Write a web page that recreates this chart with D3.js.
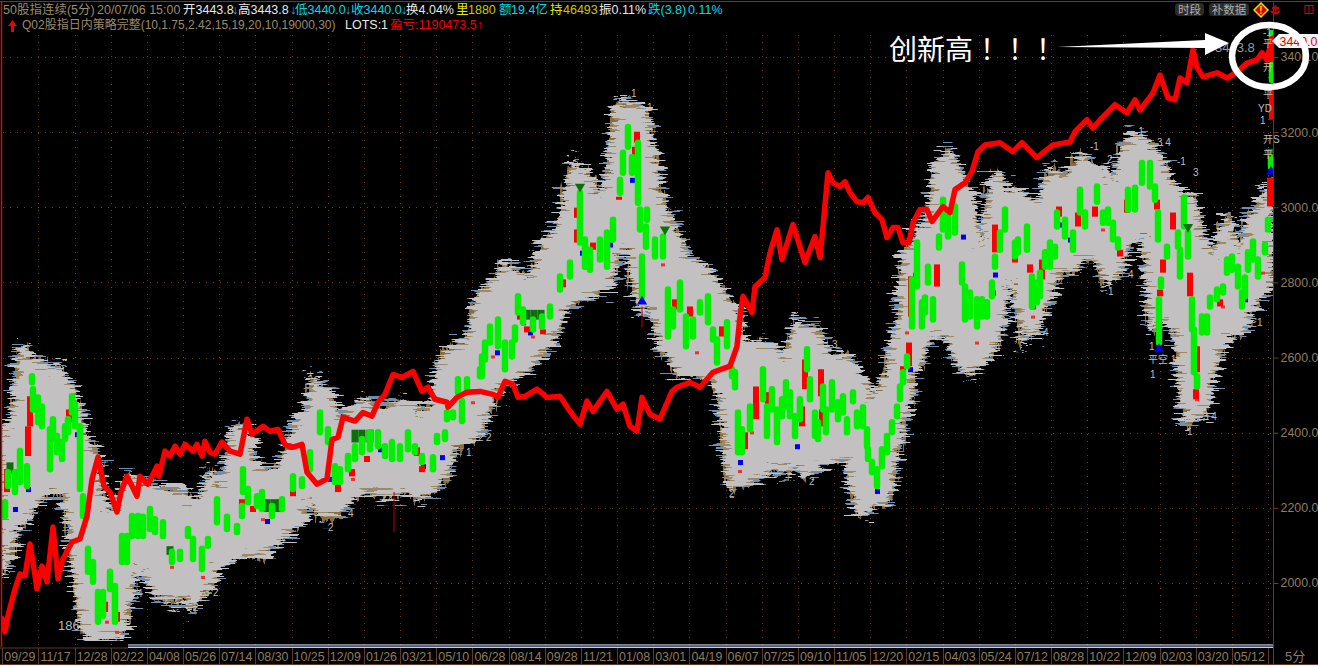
<!DOCTYPE html>
<html><head><meta charset="utf-8">
<style>
html,body{margin:0;padding:0;background:#fff;overflow:hidden}
svg{display:block;font-family:"Liberation Sans","Noto Sans CJK SC",sans-serif}
</style>
<script src="https://cdn.jsdelivr.net/npm/d3@7"></script>
</head><body><svg id="c" width="1318" height="667"></svg>
<script>
const xLabels=["09/29","11/17","12/28","02/22","04/08","05/26","07/14","08/30","10/25","12/09","01/26","03/21","05/10","06/28","08/14","09/28","11/21","01/08","03/01","04/19","06/07","07/25","09/10","11/05","12/20","02/15","04/03","05/24","07/12","08/28","10/22","12/09","02/03","03/20","05/12"];
const yTicks=[3400,3200,3000,2800,2600,2400,2200,2000];

// strategy equity curve, plotted against the price axis: [bar, level]
const equity=[[2,1905],[5,1870],[8,1913],[15,1984],[20,2024],[25,2019],[30,2104],[33,2056],[37,1984],[42,2045],[47,2003],[53,2149],[58,2011],[63,2064],[72,2109],[80,2117],[87,2178],[92,2276],[98,2335],[104,2258],[110,2242],[117,2189],[121,2242],[127,2284],[132,2258],[137,2231],[140,2284],[148,2263],[157,2311],[159,2284],[165,2351],[170,2338],[175,2364],[180,2343],[185,2369],[193,2351],[197,2369],[202,2338],[205,2377],[210,2348],[215,2343],[222,2375],[230,2351],[240,2343],[247,2436],[252,2396],[263,2417],[270,2404],[278,2409],[285,2369],[292,2361],[302,2369],[307,2295],[317,2263],[327,2277],[332,2382],[338,2388],[343,2441],[355,2431],[363,2454],[372,2444],[378,2481],[385,2502],[393,2555],[402,2547],[413,2563],[422,2510],[428,2521],[435,2489],[447,2481],[448,2468],[457,2494],[467,2508],[480,2510],[493,2502],[498,2494],[505,2537],[513,2529],[518,2494],[525,2497],[537,2516],[547,2494],[560,2497],[570,2457],[580,2423],[587,2484],[593,2457],[607,2510],[617,2462],[623,2476],[630,2417],[637,2404],[642,2494],[650,2449],[660,2436],[672,2510],[677,2521],[690,2534],[700,2521],[713,2561],[730,2577],[737,2630],[740,2709],[743,2763],[752,2720],[755,2789],[765,2813],[770,2879],[777,2940],[782,2861],[793,2954],[805,2853],[815,2922],[820,2866],[823,2948],[828,3092],[833,3065],[840,3055],[845,3068],[850,3039],[857,3015],[863,3012],[868,3026],[875,2986],[882,2967],[887,2919],[893,2946],[898,2946],[903,2906],[909,2906],[913,2959],[920,2994],[927,2994],[932,2962],[943,3002],[950,2986],[955,3047],[965,3065],[972,3095],[978,3148],[985,3166],[1000,3172],[1013,3148],[1022,3172],[1037,3132],[1053,3166],[1070,3174],[1075,3201],[1087,3233],[1093,3211],[1102,3238],[1115,3273],[1127,3251],[1135,3286],[1140,3259],[1153,3304],[1160,3352],[1168,3291],[1175,3286],[1180,3344],[1187,3331],[1193,3419],[1197,3373],[1203,3347],[1217,3358],[1227,3344],[1237,3360],[1247,3384],[1257,3392],[1262,3411],[1267,3392],[1272,3450]];

// envelope of the dense signal labels: [bar, top, bottom]
const band=[[0,2409,2016],[5,2404,2024],[12,2441,2077],[18,2643,2157],[25,2622,2152],[33,2600,2197],[42,2590,2223],[52,2563,2237],[58,2590,2237],[65,2555,2210],[72,2529,2037],[78,2489,1931],[83,2436,1852],[90,2375,1852],[98,2356,1852],[105,2184,1852],[112,2189,1852],[120,2250,1852],[128,2290,1899],[135,2282,1984],[140,2277,2037],[145,2269,2019],[155,2258,1966],[165,2250,1950],[175,2250,1945],[183,2250,1958],[192,2223,1923],[200,2223,1958],[210,2311,1976],[217,2269,2037],[225,2282,2056],[232,2409,2064],[240,2423,2069],[250,2396,2072],[255,2322,2069],[265,2303,2064],[275,2303,2091],[285,2348,2125],[293,2428,2144],[305,2454,2170],[312,2555,2215],[322,2523,2170],[330,2516,2170],[340,2444,2178],[345,2449,2215],[355,2476,2223],[365,2497,2242],[380,2462,2231],[395,2481,2231],[405,2489,2242],[420,2462,2215],[432,2484,2242],[437,2577,2250],[445,2622,2277],[455,2640,2338],[465,2643,2375],[478,2776,2383],[490,2789,2462],[503,2856,2529],[515,2834,2542],[530,2816,2569],[545,2922,2614],[555,2933,2640],[563,3020,2709],[572,3134,2736],[580,3092,2747],[590,3100,2763],[598,3028,2773],[607,3092,2781],[614,3259,2808],[620,3294,2887],[628,3278,2879],[635,3273,2763],[642,3267,2709],[650,3225,2736],[657,3126,2648],[665,2994,2603],[680,2922,2542],[690,2861,2561],[700,2853,2542],[710,2834,2550],[720,2794,2489],[727,2763,2250],[735,2741,2250],[745,2640,2258],[755,2648,2277],[765,2640,2285],[775,2630,2311],[785,2603,2285],[795,2709,2311],[805,2683,2277],[818,2683,2311],[830,2603,2322],[845,2614,2330],[857,2569,2178],[865,2542,2178],[875,2497,2215],[885,2561,2205],[890,2622,2215],[897,2702,2322],[903,2895,2391],[910,2895,2481],[918,2954,2561],[925,2949,2614],[935,3100,2656],[945,3158,2656],[950,3153,2622],[960,3100,2569],[967,3047,2550],[975,3012,2577],[982,2895,2587],[990,3092,2603],[1000,3092,2648],[1005,3052,2728],[1012,3039,2821],[1020,3055,2622],[1028,3020,2667],[1038,3012,2656],[1045,3092,2728],[1055,3108,2789],[1065,3081,2826],[1075,3126,2826],[1085,3153,2861],[1095,3100,2861],[1105,3108,2789],[1113,3065,2816],[1120,3153,2816],[1128,3180,2887],[1135,3198,2919],[1143,3188,2922],[1150,3166,2662],[1160,3145,2694],[1170,3092,2694],[1175,3060,2656],[1180,3039,2489],[1187,3034,2409],[1195,3028,2436],[1205,2906,2444],[1215,2879,2550],[1220,2949,2595],[1230,2986,2667],[1240,2887,2656],[1247,2975,2694],[1255,3002,2731],[1262,3028,2773],[1272,3078,2790]];

// falling candle bodies: [bar, high, low]
const downBars=[[5,2215,2178],[8,2295,2258],[15,2295,2242],[20,2351,2269],[27,2311,2258],[32,2550,2534],[33,2516,2462],[38,2494,2428],[42,2470,2417],[50,2409,2303],[53,2436,2383],[57,2391,2348],[62,2375,2330],[65,2417,2383],[68,2436,2401],[72,2497,2454],[75,2476,2417],[80,2417,2250],[83,2231,2178],[88,2091,2030],[93,2056,2003],[98,1976,1897],[103,1976,1913],[110,2030,1984],[115,1992,1897],[122,2125,2056],[127,2125,2056],[132,2178,2125],[138,2178,2125],[143,2176,2125],[150,2197,2144],[155,2170,2136],[163,2162,2125],[172,2083,2056],[180,2083,2064],[188,2144,2125],[193,2117,2064],[202,2091,2037],[208,2117,2099],[217,2223,2162],[227,2176,2144],[237,2152,2136],[242,2205,2178],[243,2303,2242],[248,2250,2215],[257,2231,2205],[262,2242,2197],[272,2205,2178],[282,2223,2197],[293,2284,2250],[302,2276,2258],[310,2348,2303],[320,2454,2401],[328,2409,2375],[335,2311,2269],[340,2303,2269],[348,2338,2303],[355,2364,2330],[362,2383,2348],[370,2401,2356],[378,2401,2364],[385,2364,2338],[392,2375,2330],[400,2364,2330],[408,2401,2356],[415,2364,2348],[422,2338,2322],[433,2335,2303],[437,2391,2375],[445,2401,2383],[447,2454,2436],[453,2454,2441],[462,2484,2431],[458,2542,2508],[467,2542,2508],[480,2569,2550],[482,2603,2550],[485,2640,2595],[490,2683,2640],[498,2701,2630],[505,2640,2569],[512,2640,2603],[515,2680,2648],[518,2763,2720],[523,2728,2694],[533,2701,2675],[542,2709,2683],[550,2736,2709],[560,2816,2781],[570,2853,2816],[580,3039,2906],[585,2914,2842],[590,2887,2834],[600,2914,2861],[607,2933,2842],[613,2967,2914],[620,3073,3039],[623,3145,3092],[628,3214,3161],[632,3134,3092],[638,3172,3012],[640,2994,2941],[642,2869,2763],[647,2994,2967],[646,2949,2895],[655,2914,2869],[663,2922,2869],[668,2781,2656],[673,2728,2683],[680,2800,2728],[686,2709,2630],[693,2701,2656],[700,2747,2720],[708,2763,2694],[713,2675,2648],[717,2648,2587],[727,2694,2630],[732,2569,2550],[735,2561,2521],[738,2454,2348],[742,2409,2348],[750,2470,2409],[763,2569,2489],[767,2470,2391],[772,2516,2462],[777,2462,2375],[782,2489,2444],[786,2534,2470],[790,2508,2444],[795,2444,2391],[800,2489,2436],[807,2622,2569],[810,2542,2489],[815,2454,2391],[818,2428,2383],[823,2523,2462],[826,2462,2401],[832,2534,2462],[838,2481,2436],[843,2497,2454],[847,2436,2401],[853,2508,2484],[857,2454,2417],[863,2468,2417],[867,2409,2364],[868,2356,2330],[872,2322,2295],[877,2303,2258],[882,2356,2311],[887,2391,2348],[892,2428,2401],[897,2470,2444],[900,2523,2489],[903,2561,2534],[907,2603,2577],[912,2808,2683],[917,2906,2789],[922,2747,2683],[925,2760,2720],[928,2842,2800],[933,2755,2701],[939,2922,2893],[943,3020,2941],[948,2975,2922],[955,3002,2933],[962,2848,2800],[965,2789,2701],[970,2773,2709],[977,2755,2683],[982,2755,2709],[987,2747,2709],[992,2800,2763],[995,2869,2842],[1000,2933,2887],[1005,2994,2941],[1015,2906,2869],[1018,2914,2880],[1027,2949,2887],[1032,2816,2736],[1037,2800,2747],[1040,2826,2763],[1045,2880,2842],[1050,2906,2842],[1055,2895,2869],[1057,2986,2949],[1065,2967,2922],[1073,2933,2887],[1080,3047,2986],[1085,2986,2949],[1097,3055,3015],[1103,2986,2959],[1108,2994,2959],[1113,2959,2914],[1118,2914,2893],[1128,3047,2994],[1135,3052,2994],[1142,3118,3065],[1150,3118,3055],[1155,3055,3020],[1158,2986,2914],[1161,2808,2789],[1159,2755,2640],[1167,2895,2869],[1178,2933,2895],[1180,2887,2816],[1184,3026,2949],[1188,2933,2869],[1192,2755,2675],[1194,2675,2561],[1197,2550,2523],[1202,2709,2667],[1207,2709,2667],[1210,2760,2736],[1217,2781,2755],[1223,2789,2773],[1227,2861,2826],[1232,2869,2834],[1238,2842,2789],[1242,2773,2736],[1245,2813,2763],[1248,2880,2834],[1253,2909,2861],[1258,2861,2816],[1265,2901,2880],[1268,2967,2941],[1271,3132,3108],[1272,3464,3450],[1272,3379,3339]];

// rising candle bodies: [bar, high, low]
const upBars=[[7,2303,2242],[28,2417,2338],[30,2497,2417],[69,2462,2428],[105,1950,1923],[117,1923,1897],[242,2223,2205],[253,2205,2189],[293,2258,2231],[338,2269,2242],[352,2303,2284],[367,2338,2322],[417,2361,2338],[422,2311,2295],[527,2683,2667],[543,2675,2662],[520,2728,2701],[563,2808,2787],[577,2999,2972],[577,2941,2906],[593,2906,2887],[619,3028,3020],[635,3161,3118],[637,3201,3172],[690,2736,2709],[675,2755,2728],[722,2683,2656],[745,2401,2356],[756,2523,2436],[768,2508,2462],[802,2470,2417],[805,2595,2516],[821,2569,2497],[822,2462,2417],[911,2816,2709],[916,2826,2800],[937,2848,2789],[909,2640,2577],[903,2577,2542],[995,2954,2880],[1015,2880,2853],[1030,2848,2826],[1033,2773,2728],[1042,2861,2808],[1059,3002,2975],[1078,2986,2949],[1095,3002,2975],[1120,2887,2869],[1127,3020,2986],[1157,3020,2994],[1163,2861,2826],[1160,2781,2763],[1173,2986,2941],[1190,2826,2763],[1197,2630,2561],[1196,2516,2489],[1220,2755,2736],[1270,3079,3002],[1268,2954,2935],[1272,3450,3379],[1272,3318,3233]];
const wicks=[[394,2242,2136],[642,2736,2680]];

// darker green clusters: [bar, high, low]
const darkBars=[[355,2408,2374],[362,2408,2374],[370,2408,2374],[527,2727,2701],[534,2727,2701],[541,2727,2701],[267,2223,2189],[274,2223,2189],[280,2223,2189],[10,2321,2290],[170,2098,2075]];
const sellMarks=[[580,3055],[665,2941],[1270,3148],[1188,2948]];
const buyMarks=[[1159,2622],[642,2749],[1271,3095]];
const blueDots=[[15,2197],[28,2250],[77,2396],[330,2277],[380,2356],[423,2311],[442,2335],[497,2614],[523,2694],[530,2667],[582,2879],[610,2901],[632,3073],[993,2773],[1060,2954],[1070,2914],[1120,2880],[1245,2755],[995,2821],[910,2569],[963,2922],[740,2322],[797,2364],[877,2245],[267,2165],[247,2223]];
const redDots=[[107,1897],[117,1870],[172,2043],[203,2016],[263,2170],[353,2277],[473,2481],[493,2603],[533,2656],[697,2614],[740,2298],[752,2401],[907,2667],[977,2640],[1197,2489],[1033,2709],[1223,2736],[1263,2826],[1103,2941],[663,2848]];

// signal labels: [bar, level, text]
const signals=[[27,2176,"2"],[137,1971,"4"],[193,1936,"2"],[213,1976,"2"],[204,1976,"3"],[163,1953,"2"],[173,1953,"2"],[328,2149,"2"],[348,2184,"4"],[382,2229,"2"],[388,2231,"2"],[466,2348,"1"],[478,2388,"2"],[486,2388,"2"],[483,2436,"4"],[832,2635,"3"],[729,2237,"2"],[767,2290,"2"],[788,2298,"2"],[809,2271,"2"],[867,2197,"2"],[631,3302,"1"],[647,3265,"1"],[1135,3201,"-1"],[1157,3172,"3 4"],[1090,3161,"-1"],[1107,3126,"2"],[1177,3121,"-1"],[1193,3092,"3"],[1108,2776,"1"],[1128,2821,"4"],[1168,2667,"4"],[1043,2667,"4"],[1187,2404,"1"],[1232,2656,"1"],[1247,2694,"空1"],[1215,2595,"4"],[1203,2444,"3 4"],[995,2627,"4"],[1148,2595,"平空 1"],[1150,2555,"1"],[1149,2630,"1"],[1263,3466,"-1"],[1263,3436,"平"],[1263,3373,"开"],[1263,3300,"平"],[1258,3264,"YD"],[1260,3232,"1"],[1263,3180,"开S"],[1263,3140,"平"]];

const headerRow1=[[3,"50股指连续(5分)","#9c8a6c"],[97,"20/07/06 15:00","#9c8a6c"],[183,"开3443.8","#e8e8e8"],[232,"↓","#4aa8d8"],[238,"高3443.8","#e8e8e8"],[290,"↓","#4aa8d8"],[295,"低3440.0","#00d8e8"],[345,"↓","#4aa8d8"],[351,"收3440.0","#00d8e8"],[401,"↓","#4aa8d8"],[406,"换4.04%","#e8e8e8"],[456,"里","#e8e800"],[468,"1880","#c8c800"],[499,"额","#00d8e8"],[511,"19.4亿","#00d8e8"],[550,"持","#e8e800"],[563,"46493","#c8c800"],[599,"振0.11%","#e8e8e8"],[648,"跌(3.8)","#00d8e8"],[688,"0.11%","#00d8e8"]];
const headerRow2=[[22,"Q02股指日内策略完整(10,1.75,2.42,15,19,20,10,19000,30)","#9c8a6c",12],[345,"LOTS:1","#e8e8e8",12.5],[390,"盈亏:1190473.5↑","#f00000",12.5]];

const svg=d3.select("#c");
const x=d3.scaleLinear().domain([0,1318]).range([0,1318]);
const y=d3.scaleLinear().domain([2000,3400]).range([583,57]);
const xb=d3.scaleBand().domain(xLabels.map((d,i)=>i)).range([2.3,1268]);
const GRID="#6e3c26",TAN="#8f7d5e";

svg.append("rect").attr("width",1318).attr("height",665).attr("fill","#000");

const defs=svg.append("defs");
function fray(id,freq,seed,scale){
  const f=defs.append("filter").attr("id",id).attr("x","-5%").attr("y","-5%").attr("width","110%").attr("height","110%").attr("filterUnits","objectBoundingBox");
  f.append("feTurbulence").attr("type","fractalNoise").attr("baseFrequency",freq).attr("numOctaves",2).attr("seed",seed).attr("result","n");
  f.append("feDisplacementMap").attr("in","SourceGraphic").attr("in2","n").attr("scale",scale).attr("xChannelSelector","R").attr("yChannelSelector","A");
}
fray("fa","0.025 0.42",4,36);
fray("fb","0.03 0.4",11,42);
fray("fc","0.3 0.03",7,20);
defs.append("clipPath").attr("id","plot").append("rect").attr("x",2).attr("y",30).attr("width",1271).attr("height",611);

// grid
const grid=svg.append("g").attr("stroke",GRID).attr("stroke-dasharray","1 6").attr("fill","none");
grid.selectAll("line.h").data(yTicks).join("line").attr("class","h")
  .attr("x1",3).attr("x2",1273).attr("y1",d=>Math.round(y(d))+.5).attr("y2",d=>Math.round(y(d))+.5);
grid.selectAll("line.v").data(xLabels.slice(1).map((d,i)=>i+1).concat([35])).join("line").attr("class","v")
  .attr("x1",d=>Math.round(d===35?1268:xb(d))+.5).attr("x2",d=>Math.round(d===35?1268:xb(d))+.5).attr("y1",35).attr("y2",645);

// stray left label sits behind the band
svg.append("text").attr("x",x(58)).attr("y",y(1886)).attr("dy","0.35em").attr("font-size",13).attr("fill","#b8b8b8").text("1865");

const plot=svg.append("g").attr("clip-path","url(#plot)");
const area=d3.area().x(d=>x(d[0])).y0(d=>y(d[2])).y1(d=>y(d[1]));
plot.append("path").attr("d",area(band)).attr("fill","#6f8fb0").attr("filter","url(#fb)");
plot.append("path").attr("d",area(band)).attr("fill","#a98a52").attr("opacity",.8).attr("filter","url(#fc)");
plot.append("path").attr("d",area(band)).attr("fill","#c2c0c0").attr("filter","url(#fa)");

plot.append("g").attr("fill","#0000f0").selectAll("rect").data(blueDots).join("rect")
  .attr("x",d=>x(d[0])-2).attr("y",d=>y(d[1])-2).attr("width",5).attr("height",5);
plot.append("g").attr("fill","#f03030").selectAll("rect").data(redDots).join("rect")
  .attr("x",d=>x(d[0])-2).attr("y",d=>y(d[1])-1).attr("width",4).attr("height",3);

const bar=(g,data,color,w,cap)=>g.append("g").attr("stroke",color).attr("stroke-width",w).attr("stroke-linecap",cap)
  .selectAll("line").data(data).join("line").attr("x1",d=>x(d[0])).attr("x2",d=>x(d[0])).attr("y1",d=>y(d[1])).attr("y2",d=>y(d[2]));
bar(plot,wicks,"#c00000",1,"butt");
bar(plot,darkBars,"#0b6f0b",7,"butt");
bar(plot,upBars,"#fa0000",6,"butt");
bar(plot,downBars,"#00f000",6.5,"round");
const tri=d3.symbol().type(d3.symbolTriangle).size(45);
plot.append("g").attr("fill","#0b6f0b").selectAll("path").data(sellMarks).join("path").attr("d",tri)
  .attr("transform",d=>`translate(${x(d[0])},${y(d[1])}) rotate(180)`);
plot.append("g").attr("fill","#0000f0").selectAll("path").data(buyMarks).join("path").attr("d",tri)
  .attr("transform",d=>`translate(${x(d[0])},${y(d[1])})`);

plot.append("path").attr("d",d3.line().x(d=>x(d[0])).y(d=>y(d[1]))(equity)).attr("fill","none")
  .attr("stroke","#fa0000").attr("stroke-width",5.5).attr("stroke-linejoin","round").attr("stroke-linecap","round");

svg.append("g").attr("font-size",10).attr("fill","#bdbdbd").selectAll("text").data(signals).join("text")
  .attr("x",d=>x(d[0])).attr("y",d=>y(d[1])).attr("dy","0.35em").text(d=>d[2]);

// frame
svg.append("rect").attr("x",0).attr("y",0).attr("width",1318).attr("height",2).attr("fill","#000");
svg.append("line").attr("x1",0).attr("x2",1318).attr("y1",1.5).attr("y2",1.5).attr("stroke","#c81010").attr("stroke-width",1);
svg.append("line").attr("x1",1.5).attr("x2",1.5).attr("y1",1).attr("y2",647).attr("stroke","#c81010").attr("stroke-width",1.5);

// right axis
const ya=svg.append("g").attr("transform","translate(1273.5,0)").call(d3.axisRight(y).tickValues(yTicks).tickFormat(d=>d.toFixed(1)).tickSize(5).tickPadding(2));
ya.selectAll("text").attr("fill",TAN).attr("font-size",12.4).attr("font-family",'"Liberation Sans",sans-serif');
ya.selectAll("line").attr("stroke",GRID);
ya.select(".domain").remove();
svg.append("line").attr("x1",1273.5).attr("x2",1273.5).attr("y1",2).attr("y2",665).attr("stroke","#5f3a28");

// bottom axis
svg.append("line").attr("x1",128).attr("x2",1273).attr("y1",645).attr("y2",645).attr("stroke","#fff").attr("stroke-width",1.2);
svg.append("line").attr("x1",128).attr("x2",1273).attr("y1",646.3).attr("y2",646.3).attr("stroke","#223a80").attr("stroke-width",1);
svg.append("line").attr("x1",128).attr("x2",1273).attr("y1",647.3).attr("y2",647.3).attr("stroke","#fff").attr("stroke-width",1);
svg.append("line").attr("x1",0).attr("x2",128).attr("y1",648).attr("y2",648).attr("stroke","#5f3a28");
svg.append("line").attr("x1",0).attr("x2",1318).attr("y1",664.5).attr("y2",664.5).attr("stroke","#5f3a28");
const xa=svg.append("g");
xa.selectAll("line").data(d3.range(0,36)).join("line")
  .attr("x1",d=>Math.round(d===35?1268:xb(d))+.5).attr("x2",d=>Math.round(d===35?1268:xb(d))+.5).attr("y1",648).attr("y2",664).attr("stroke","#5f3a28");
xa.selectAll("text").data(xLabels).join("text").attr("x",(d,i)=>xb(i)+2).attr("y",661).attr("font-size",12.4).attr("fill",TAN).text(d=>d);
svg.append("text").attr("x",1285).attr("y",661).attr("font-size",13).attr("fill",TAN).text("5分");

// header
svg.append("g").attr("font-size",12.5).selectAll("text").data(headerRow1).join("text").attr("x",d=>d[0]).attr("y",14).attr("fill",d=>d[2]).text(d=>d[1]);
svg.append("g").selectAll("text").data(headerRow2).join("text").attr("x",d=>d[0]).attr("y",29).attr("font-size",d=>d[3]).attr("fill",d=>d[2]).text(d=>d[1]);
svg.append("path").attr("d","M12.5 20L17 26H14V32H11V26H8Z").attr("fill","#f00000");

// toolbar
[[1175,29,"时段"],[1209,40,"补数据"]].forEach(b=>{
  svg.append("rect").attr("x",b[0]).attr("y",3).attr("width",b[1]).attr("height",13).attr("rx",4).attr("fill","#2d2a28");
  svg.append("text").attr("x",b[0]+b[1]/2).attr("y",14).attr("text-anchor","middle").attr("font-size",11.5).attr("fill","#b0b0b0").text(b[2]);
});
svg.append("path").attr("d","M1261 3L1268 10L1261 17L1254 10Z").attr("fill","#e00000").attr("stroke","#f0e000").attr("stroke-width",1.5);
svg.append("text").attr("x",1261).attr("y",14).attr("text-anchor","middle").attr("font-size",10).attr("font-weight",700).attr("fill","#f0e000").text("!");
svg.append("path").attr("d","M1272 8h7M1275.5 5v9M1271 11q4 5 9 0").attr("fill","none").attr("stroke","#d00000").attr("stroke-width",2);
svg.append("rect").attr("x",1305).attr("y",5.5).attr("width",8).attr("height",8).attr("fill","none").attr("stroke","#e00000");
svg.append("line").attr("x1",1309).attr("x2",1309).attr("y1",5).attr("y2",14).attr("stroke","#e00000");

// latest price flag and annotation
svg.append("text").attr("x",1215).attr("y",52).attr("font-size",13).attr("fill","#9c9c9c").text("3443.8");
svg.append("path").attr("d","M1272 41L1279 34H1318V48H1279Z").attr("fill","#f4f4f4");
svg.append("text").attr("x",1279.5).attr("y",46).attr("font-size",12.4).attr("fill","#e00000").text("3440.0");
svg.append("ellipse").attr("cx",1269).attr("cy",56).attr("rx",37).attr("ry",31).attr("fill","none").attr("stroke","#fff").attr("stroke-width",6.5);
svg.append("path").attr("d","M1057 47L1205 40L1205 33L1229 43L1205 55L1205 48Z").attr("fill","#fff");
svg.append("text").attr("x",889).attr("y",60).attr("font-size",28).attr("font-family",'"Noto Sans CJK TC"').attr("fill","#fff").text("创新高！！！");
</script></body></html>
